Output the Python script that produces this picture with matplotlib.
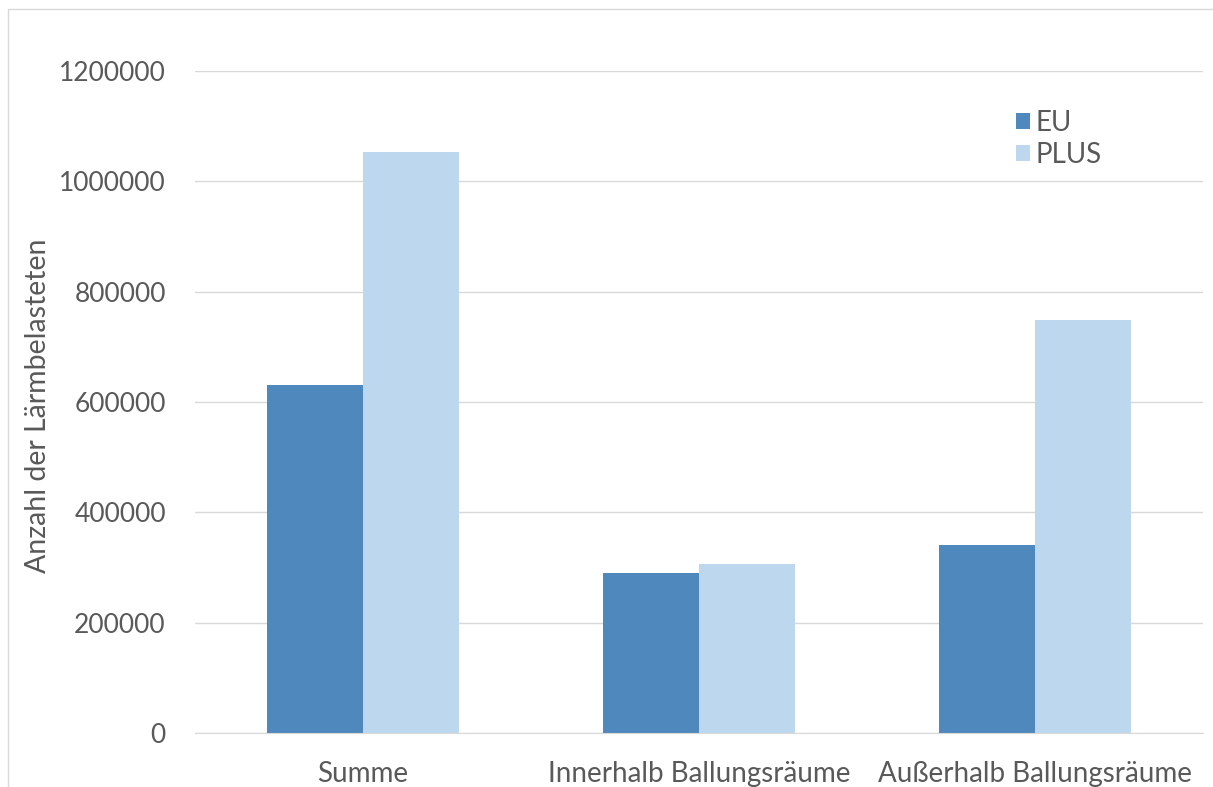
import matplotlib.pyplot as plt
from matplotlib.patches import Rectangle
import numpy as np

# data
categories = ['Summe', 'Innerhalb Ballungsräume', 'Außerhalb Ballungsräume']
eu = [630000, 290000, 340000]
plus = [1053000, 306000, 748000]
yticks = [0, 200000, 400000, 600000, 800000, 1000000, 1200000]

plt.rcParams['font.family'] = ['Lato', 'DejaVu Sans']
txt = '#595959'

fig = plt.figure(figsize=(12.13, 7.87), dpi=100)
ax = fig.add_axes([195 / 1213, 1 - 733 / 787, (1203 - 195) / 1213, (733 - 71) / 787])

x = np.arange(len(categories))
w = 0.286
ax.bar(x - w / 2, eu, w, color='#4F88BC', label='EU', zorder=2)
ax.bar(x + w / 2, plus, w, color='#BDD7EE', label='PLUS', zorder=2)

ax.set_xlim(-0.5, 2.5)
ax.set_ylim(0, 1200000)
ax.set_yticks(yticks)
ax.set_yticklabels([str(v) for v in yticks])
ax.set_xticks(x)
ax.set_xticklabels(categories)
ax.tick_params(length=0, colors=txt)
ax.tick_params(axis='y', pad=21, labelsize=19)
ax.tick_params(axis='x', pad=20, labelsize=20)
ax.grid(axis='y', color='#D9D9D9', linewidth=1, zorder=0)
for s in ['top', 'right', 'left']:
    ax.spines[s].set_visible(False)
ax.spines['bottom'].set_color('#D9D9D9')

fig.text(38 / 1213, 1 - 406 / 787, 'Anzahl der Lärmbelasteten', rotation=90,
         ha='center', va='center', fontsize=20.5, color=txt)

leg = ax.legend(loc='upper left', bbox_to_anchor=(994 / 1213, 1 - 88 / 787),
                bbox_transform=fig.transFigure, frameon=False, fontsize=20,
                handlelength=0.5, handleheight=0.5, handletextpad=0.2,
                labelspacing=0.2, borderpad=0.3)
for t in leg.get_texts():
    t.set_color(txt)

# light frame around the chart area
fig.patches.append(Rectangle((8 / 1213, -0.1), 1.2, 1 - 9 / 787 + 0.1,
                             transform=fig.transFigure, fill=False,
                             edgecolor='#D9D9D9', linewidth=1))

fig.savefig('out.png', dpi=100)
